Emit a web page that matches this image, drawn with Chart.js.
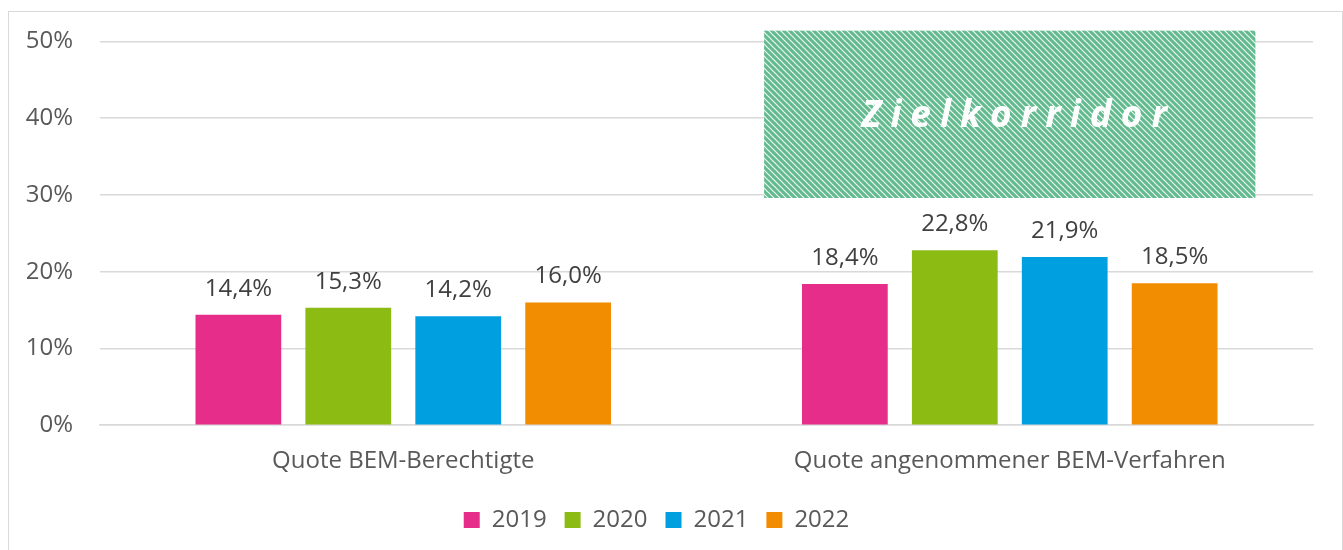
<!DOCTYPE html>
<html>
<head>
<meta charset="utf-8">
<script src="https://cdn.jsdelivr.net/npm/chart.js@4"></script>
<style>
  body { margin: 0; background: #fff; }
  #wrap { position: relative; width: 1343px; height: 550px; }
  #frame { position: absolute; left: 8px; top: 11px; width: 1335px; height: 560px; border: 1px solid #d9d9d9; box-sizing: border-box; pointer-events: none; }
</style>
</head>
<body>
<div id="wrap">
  <canvas id="myChart"></canvas>
  <div id="frame"></div>
</div>
<script>
const categories = ['Quote BEM-Berechtigte', 'Quote angenommener BEM-Verfahren'];
const years = ['2019', '2020', '2021', '2022'];
const v2019 = [14.4, 18.4];
const v2020 = [15.3, 22.8];
const v2021 = [14.2, 21.9];
const v2022 = [16.0, 18.5];
const yTicks = [0, 10, 20, 30, 40, 50];
const corridorLabel = 'Zielkorridor';
const corridorRange = [29.6, 51.4];   // Zielkorridor, in %
const corridorCategory = 1;

const colors = ['#E62D89', '#8CBB13', '#009FDF', '#F28C00'];
const values = [v2019, v2020, v2021, v2022];

function makePattern(ctx) {
    const c = document.createElement('canvas');
    c.width = 6; c.height = 6;
    const p = c.getContext('2d');
    p.fillStyle = '#62BA8E';
    p.fillRect(0, 0, 6, 6);
    p.strokeStyle = 'rgba(255,255,255,0.9)';
    p.lineWidth = 1.2;
    p.beginPath();
    p.moveTo(-1, -1); p.lineTo(7, 7);
    p.moveTo(-4, 2); p.lineTo(4, 10);
    p.moveTo(2, -4); p.lineTo(10, 4);
    p.stroke();
    return ctx.createPattern(c, 'repeat');
}

const corridorPlugin = {
    id: 'corridor',
    beforeDatasetsDraw(chart) {
        const ctx = chart.ctx;
        const x = chart.scales.x, y = chart.scales.y;
        const catW = x.getPixelForValue(1) - x.getPixelForValue(0);
        const cx = x.getPixelForValue(corridorCategory);
        const left = cx - catW * 0.405, right = cx + catW * 0.405;
        const top = y.getPixelForValue(corridorRange[1]);
        const bottom = y.getPixelForValue(corridorRange[0]);
        ctx.save();
        ctx.fillStyle = makePattern(ctx);
        ctx.fillRect(left, top, right - left, bottom - top);
        ctx.fillStyle = '#fff';
        ctx.font = 'italic bold 37px "Open Sans"';
        ctx.textAlign = 'center';
        ctx.textBaseline = 'middle';
        ctx.letterSpacing = '9px';
        ctx.fillText(corridorLabel, cx + 9, (top + bottom) / 2 + 2);
        ctx.restore();
    }
};

const valueLabels = {
    id: 'valueLabels',
    afterDatasetsDraw(chart) {
        const ctx = chart.ctx;
        ctx.save();
        ctx.font = '24px "Open Sans"';
        ctx.fillStyle = '#404040';
        ctx.textAlign = 'center';
        ctx.textBaseline = 'bottom';
        chart.data.datasets.forEach((ds, i) => {
            chart.getDatasetMeta(i).data.forEach((bar, j) => {
                const txt = ds.data[j].toFixed(1).replace('.', ',') + '%';
                ctx.fillText(txt, bar.x, bar.y - 14);
            });
        });
        ctx.restore();
    }
};

const ctx = document.getElementById('myChart').getContext('2d');
const myChart = new Chart(ctx, {
    type: 'bar',
    data: {
        labels: categories,
        datasets: years.map((yr, i) => ({
            label: yr,
            data: values[i],
            backgroundColor: colors[i],
            categoryPercentage: 0.725,
            barPercentage: 0.78
        }))
    },
    options: {
        responsive: true,
        maintainAspectRatio: false,
        animation: false,
        layout: { padding: { top: 28, right: 30, bottom: 8, left: 0 } },
        scales: {
            x: {
                grid: { display: false },
                border: { color: '#d9d9d9', width: 1.5 },
                ticks: { color: '#595959', font: { size: 24, family: 'Open Sans' }, padding: 14 }
            },
            y: {
                min: 0, max: 50,
                afterBuildTicks: s => { s.ticks = yTicks.map(v => ({ value: v })); },
                afterFit: s => { s.width = 100; },
                grid: { color: '#d9d9d9', lineWidth: 1.5, drawTicks: false },
                border: { display: false },
                ticks: {
                    color: '#595959', padding: 27,
                    font: { size: 24, family: 'Open Sans' },
                    callback: v => v + '%'
                }
            }
        },
        plugins: {
            legend: {
                position: 'bottom',
                labels: {
                    color: '#595959', boxWidth: 16, boxHeight: 16, padding: 18,
                    font: { size: 24, family: 'Open Sans' }
                }
            },
            tooltip: { enabled: false }
        }
    },
    plugins: [corridorPlugin, valueLabels]
});
</script>
</body>
</html>
